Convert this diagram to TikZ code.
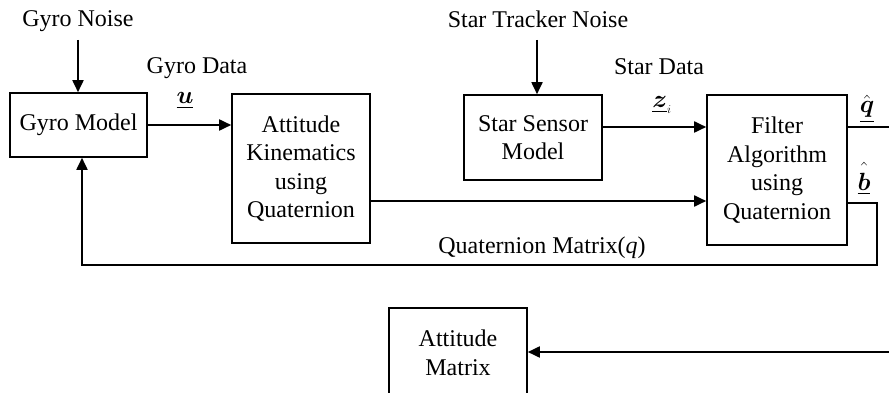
\documentclass[tikz,border=0pt]{standalone}
\usepackage{amsmath}
\usepackage{fontspec}
\setmainfont{Liberation Serif}
\usetikzlibrary{arrows.meta}
\begin{document}
\begin{tikzpicture}[x=1pt,y=-1pt,
  every node/.style={font=\fontsize{24}{28.5}\selectfont, inner sep=0pt},
  blk/.style={draw, line width=1.6pt, align=center},
  lbl/.style={anchor=base},
  conn/.style={line width=1.8pt},
  arr/.style={conn, -{Triangle[length=12pt,width=11pt]}}]
\useasboundingbox (0,0) rectangle (889,393);
\clip (0,0) rectangle (889,393);
% blocks
\node[blk, minimum width=137pt, minimum height=64pt] (gyro) at (78.5,125) {Gyro Model};
\node[blk, minimum width=138pt, minimum height=149pt] (kin) at (301,168.5) {Attitude\\Kinematics\\using\\Quaternion};
\node[blk, minimum width=138pt, minimum height=85pt] (star) at (533,137.5) {Star Sensor\\Model};
\node[blk, minimum width=140pt, minimum height=150pt] (filt) at (777,170) {Filter\\Algorithm\\using\\Quaternion};
\node[blk, minimum width=138pt, minimum height=90pt] (att) at (458,353) {Attitude\\Matrix};
% texts
\node[lbl] (gn) at (78,27) {Gyro Noise};
\node[lbl] (gd) at (197,74) {Gyro Data};
\node[lbl] (stn) at (538,28) {Star Tracker Noise};
\node[lbl] (sd) at (659,75) {Star Data};
\node[lbl] (ul) at (185,104) {$\underline{\boldsymbol{u}}$};
\node[lbl] (zl) at (662,108) {$\underline{\boldsymbol{z}}_{\scriptscriptstyle i}$};
\node[lbl] (ql) at (867,113) {$\underline{\hat{\boldsymbol{q}}}$};
\node[lbl] (bl) at (864,190) {$\underline{\hat{\raisebox{0pt}[1.2\height]{$\boldsymbol{b}$}}}$};
\node[lbl] (qm) at (542,253) {Quaternion Matrix(\textit{q})};
% coordinates
\coordinate (gnA) at (78,40);
\coordinate (stnA) at (537,40);
\coordinate (fbR) at (877,203);
\coordinate (fbB) at (877,265);
\coordinate (fbL) at (82,265);
\coordinate (kinOut) at (370,201);
\coordinate (qout) at (889,127);
\coordinate (amIn) at (889,352);
% connectors
\draw[arr] (gnA) -- (gyro.north -| gnA);
\draw[arr] (stnA) -- (star.north -| stnA);
\draw[arr] (gyro.east) -- (kin.west |- gyro.east);
\draw[arr] (star.east |- 0,127) -- (filt.west |- 0,127);
\draw[arr] (kin.east |- kinOut) -- (filt.west |- kinOut);
\draw[conn] (filt.east |- 0,127) -- (qout);
\draw[arr] (filt.east |- fbR) -- (fbR) -- (fbB) -- (fbL) -- (gyro.south -| fbL);
\draw[arr] (amIn) -- (att.east |- amIn);
\end{tikzpicture}
\end{document}
